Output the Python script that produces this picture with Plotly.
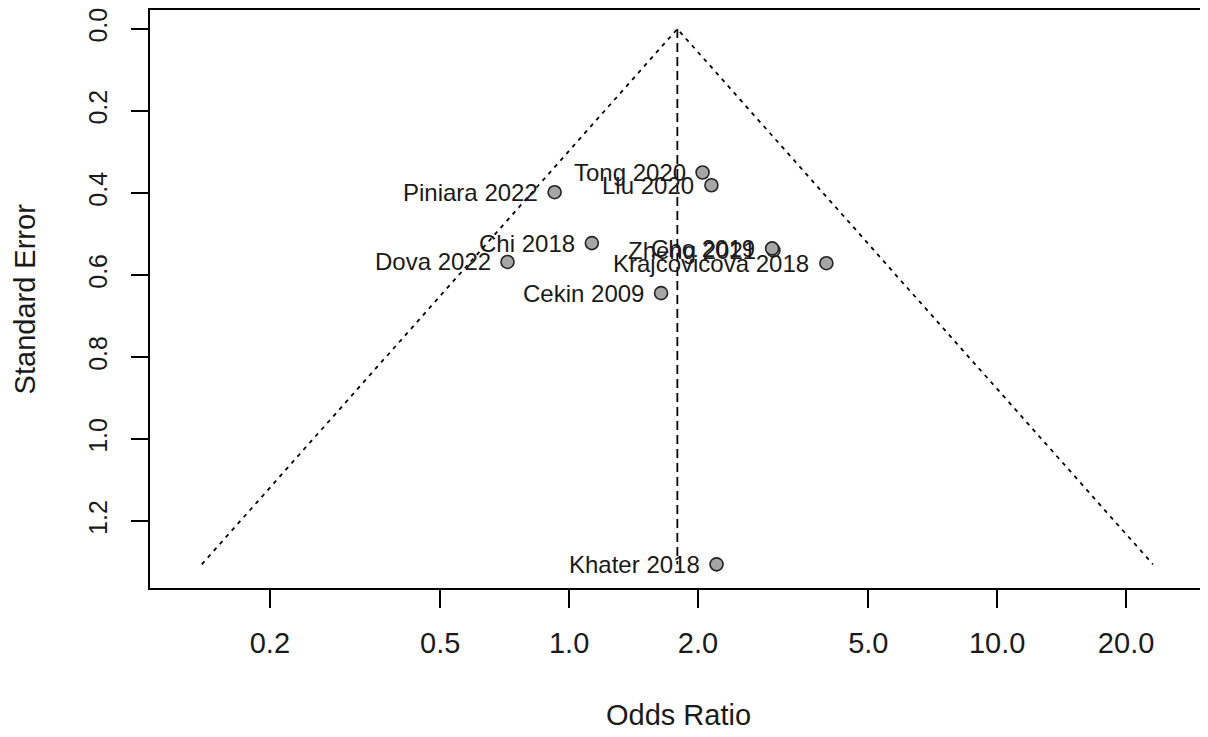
import numpy as np
import plotly.graph_objects as go

# ---- data ----
studies = ["Tong 2020", "Liu 2020", "Piniara 2022", "Chi 2018", "Zheng 2021",
           "Cho 2019", "Krajcovicova 2018", "Dova 2022", "Cekin 2009", "Khater 2018"]
odds_ratio = [2.05, 2.15, 0.925, 1.13, 3.00, 2.98, 3.99, 0.718, 1.64, 2.21]
std_error = [0.350, 0.381, 0.398, 0.522, 0.540, 0.535, 0.571, 0.568, 0.644, 1.305]
pooled_or = 1.79

x_tickvals = [0.2, 0.5, 1.0, 2.0, 5.0, 10.0, 20.0]
x_ticktext = ["0.2", "0.5", "1.0", "2.0", "5.0", "10.0", "20.0"]
y_tickvals = [0.0, 0.2, 0.4, 0.6, 0.8, 1.0, 1.2]
y_ticktext = ["0.0", "0.2", "0.4", "0.6", "0.8", "1.0", "1.2"]

FONT = "Liberation Sans, Arial, sans-serif"
TXT = "#1a1a1a"

se_max = max(std_error)
lo = float(np.exp(np.log(pooled_or) - 1.96 * se_max))
hi = float(np.exp(np.log(pooled_or) + 1.96 * se_max))

fig = go.Figure()

# funnel (pseudo confidence region)
fig.add_trace(go.Scatter(
    x=[lo, pooled_or, hi], y=[se_max, 0.0, se_max],
    mode="lines", line=dict(color="black", width=1.8, dash="4px,5px"),
    hoverinfo="skip", showlegend=False))
# vertical pooled estimate line
fig.add_trace(go.Scatter(
    x=[pooled_or, pooled_or], y=[0.0, se_max],
    mode="lines", line=dict(color="black", width=1.8, dash="9px,5px"),
    hoverinfo="skip", showlegend=False))
# studies
fig.add_trace(go.Scatter(
    x=odds_ratio, y=std_error, mode="markers",
    marker=dict(size=13, color="#a6a6a6", line=dict(color="#222222", width=1.6)),
    text=studies, showlegend=False))

for name, o, s in zip(studies, odds_ratio, std_error):
    fig.add_annotation(x=np.log10(o), y=s, text=name, showarrow=False,
                       xanchor="right", yanchor="middle", xshift=-15,
                       font=dict(family=FONT, size=24, color=TXT))

# axis titles
fig.add_annotation(x=0.5, y=-0.22, xref="paper", yref="paper", text="Odds Ratio",
                   showarrow=False, xanchor="center", yanchor="middle",
                   font=dict(family=FONT, size=29, color=TXT))
fig.add_annotation(x=-0.118, y=0.5, xref="paper", yref="paper", text="Standard Error",
                   showarrow=False, xanchor="center", yanchor="middle", textangle=-90,
                   font=dict(family=FONT, size=29, color=TXT))

fig.update_xaxes(type="log", range=[-0.979, 1.4877],
                 tickvals=x_tickvals, ticktext=x_ticktext,
                 ticks="outside", ticklen=18, tickwidth=1.6, tickcolor="black",
                 showline=True, linecolor="black", linewidth=1.8, mirror=True,
                 showgrid=False, zeroline=False, ticklabelstandoff=10,
                 tickfont=dict(family=FONT, size=29, color=TXT))
fig.update_yaxes(range=[1.3627, -0.0461],
                 tickvals=y_tickvals, ticktext=y_ticktext, tickangle=-90,
                 ticks="outside", ticklen=17, tickwidth=1.6, tickcolor="black",
                 showline=True, linecolor="black", linewidth=1.8, mirror=True,
                 showgrid=False, zeroline=False, ticklabelstandoff=14,
                 ticklabeloverflow="allow",
                 tickfont=dict(family=FONT, size=25, color=TXT))

fig.update_layout(width=1200, height=729,
                  margin=dict(l=142, r=1, t=0, b=149),
                  paper_bgcolor="white", plot_bgcolor="white")

fig.write_html("out.html")
